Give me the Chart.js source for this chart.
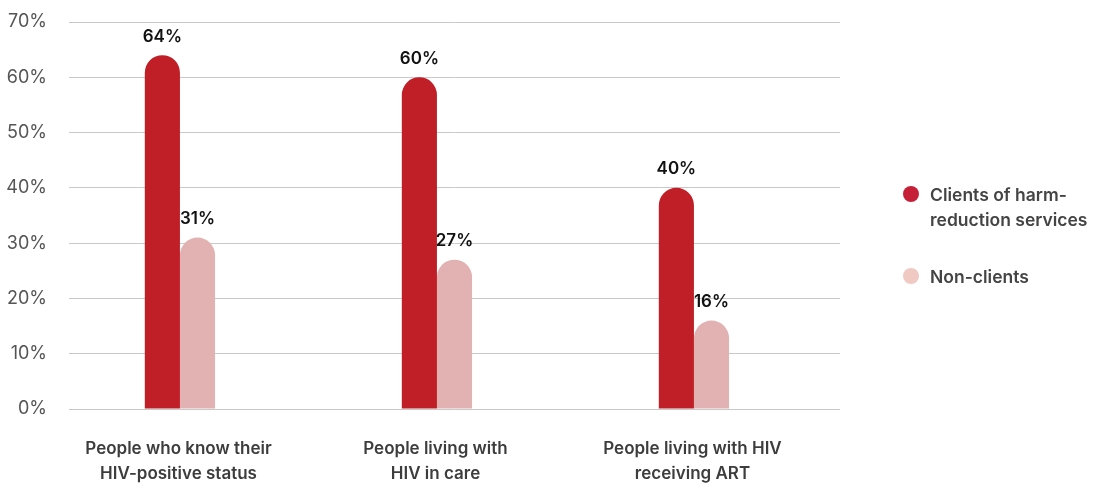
<!DOCTYPE html>
<html>
<head>
    <title>HIV care cascade</title>
    <script src="https://cdn.jsdelivr.net/npm/chart.js"></script>
    <style>
        body { margin: 0; background: #fff; font-family: Inter, Arial, sans-serif; }
        .wrap { position: relative; width: 1093px; height: 487px; }
        .legend { position: absolute; left: 903px; top: 182px; }
        .legend-item { display: flex; align-items: flex-start; margin-bottom: 32px; }
        .dot { width: 16px; height: 16px; border-radius: 50%; margin-top: 4px; margin-right: 11px; flex-shrink: 0; }
        .legend-text { font-size: 17.5px; font-weight: 600; color: #444; line-height: 25px; }
    </style>
</head>
<body>
    <div class="wrap">
        <canvas id="chart" width="1093" height="487"></canvas>
        <div class="legend" id="legend"></div>
    </div>

    <script>
        const categories = [
            ['People who know their', 'HIV-positive status'],
            ['People living with', 'HIV in care'],
            ['People living with HIV', 'receiving ART']
        ];
        const clients = [64, 60, 40];
        const nonClients = [31, 27, 16];
        const yTicks = [0, 10, 20, 30, 40, 50, 60, 70];

        const seriesNames = [['Clients of harm-', 'reduction services'], ['Non-clients']];
        const barColors = ['#c01f27', '#e2b1b1'];
        const dotColors = ['#c62039', '#f0c9c3'];
        const fontFamily = 'Inter, Arial, sans-serif';

        // value labels above the two real series
        const valueLabels = {
            id: 'valueLabels',
            afterDatasetsDraw(chart) {
                const ctx = chart.ctx;
                ctx.save();
                ctx.font = '600 17px ' + fontFamily;
                ctx.fillStyle = '#111';
                ctx.textAlign = 'center';
                ctx.textBaseline = 'bottom';
                [0, 1].forEach(i => {
                    chart.getDatasetMeta(i).data.forEach((bar, j) => {
                        ctx.fillText(chart.data.datasets[i].data[j] + '%', bar.x, bar.y - 10);
                    });
                });
                ctx.restore();
            }
        };

        const roundTop = { topLeft: 18, topRight: 18, bottomLeft: 0, bottomRight: 0 };

        new Chart(document.getElementById('chart'), {
            type: 'bar',
            data: {
                labels: categories,
                datasets: [
                    { label: 'Clients of harm-reduction services', data: clients, backgroundColor: barColors[0], borderRadius: roundTop, borderSkipped: false },
                    { label: 'Non-clients', data: nonClients, backgroundColor: barColors[1], borderRadius: roundTop, borderSkipped: false },
                    // empty spacer so the pair sits left of the category centre, as in the source
                    { label: '', data: [0, 0, 0], backgroundColor: 'rgba(0,0,0,0)' }
                ]
            },
            options: {
                responsive: false,
                animation: false,
                layout: { padding: { top: 22, right: 253, left: 0, bottom: 0 } },
                categoryPercentage: 0.41,
                barPercentage: 1,
                plugins: { legend: { display: false }, tooltip: { enabled: false } },
                scales: {
                    x: {
                        grid: { display: false },
                        border: { display: false },
                        ticks: {
                            color: '#3d3d3d',
                            padding: 20,
                            labelOffset: -19,
                            maxRotation: 0,
                            font: { family: fontFamily, size: 17, weight: '600', lineHeight: 1.45 }
                        },
                        afterFit(scale) { scale.height = 78; }
                    },
                    y: {
                        min: 0,
                        max: 70,
                        afterBuildTicks(scale) { scale.ticks = yTicks.map(v => ({ value: v })); },
                        grid: { color: '#c9c9c9', lineWidth: 1, drawTicks: false },
                        border: { display: false },
                        ticks: {
                            color: '#555',
                            padding: 22,
                            callback: v => v + '%',
                            font: { family: fontFamily, size: 18 }
                        },
                        afterFit(scale) {
                            scale.width = 69;
                            scale.paddingTop = 0;
                            scale.paddingBottom = 0;
                        }
                    }
                }
            },
            plugins: [valueLabels]
        });

        const legend = document.getElementById('legend');
        seriesNames.forEach((name, i) => {
            const item = document.createElement('div');
            item.className = 'legend-item';
            item.innerHTML = '<span class="dot" style="background:' + dotColors[i] + '"></span>' +
                '<span class="legend-text">' + name.join('<br>') + '</span>';
            legend.appendChild(item);
        });
    </script>
</body>
</html>
